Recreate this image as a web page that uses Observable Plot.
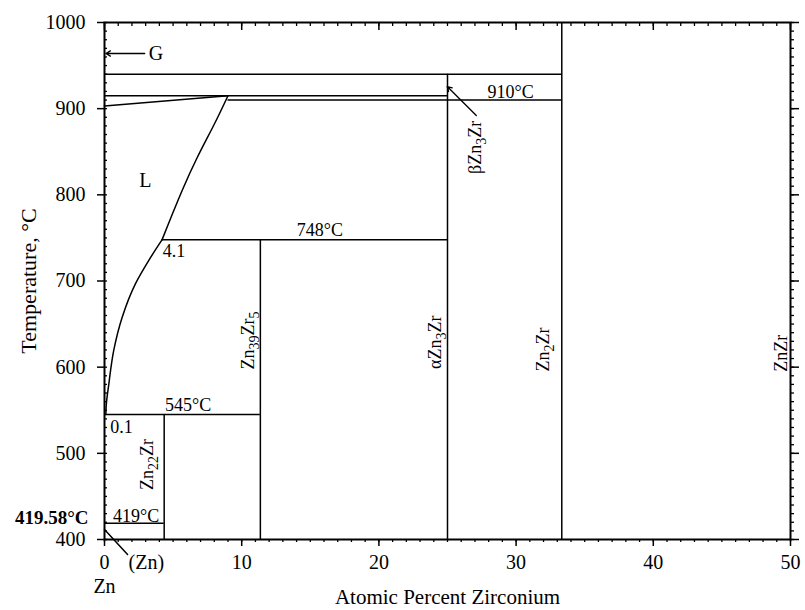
<!DOCTYPE html>
<html><head><meta charset="utf-8">
<script src="https://cdn.jsdelivr.net/npm/d3@7"></script>
<script src="https://cdn.jsdelivr.net/npm/@observablehq/plot@0.6"></script>
<style>
body{margin:0;background:#fff}
svg text, svg tspan{font-family:"Liberation Serif","Times New Roman",serif !important}
</style>
</head><body><div id="chart"></div>
<script>
// Isotherms (horizontal lines): temperature, from x, to x (at.% Zr)
const isoT  = [940, 915, 910, 748, 545, 419];
const isoX1 = [0, 0, 9.0, 4.2, 0, 0];
const isoX2 = [33.33, 25, 33.33, 25, 11.36, 4.35];
// Compound lines (vertical): composition, from T, to T
const compX  = [4.35, 11.36, 25, 33.33];
const compT1 = [400, 400, 400, 400];
const compT2 = [545, 748, 940, 1000];
// Liquidus
const liqSegX = [0, 9.0];
const liqSegT = [903, 915];
const liqUpX = [9.0, 7.99, 6.76, 5.66, 4.64, 4.2];
const liqUpT = [915, 881.6, 843.3, 805, 765.6, 748];
const liqLoX = [4.2, 3.23, 2.26, 1.29, 0.68, 0.32, 0.12, 0.1];
const liqLoT = [748, 724, 697, 658, 620, 581, 554, 545];
// Annotations
const labelText = ["G", "L", "910°C", "748°C", "4.1", "545°C", "0.1", "419°C"];
const labelSize = [20, 20, 18, 18, 18, 18, 18, 18];
const labelX    = [3.75, 2.98, 29.6, 15.7, 5.07, 6.09, 1.24, 2.3];
const labelT    = [964, 816, 919, 758.6, 734, 556, 530.3, 427.5];
const phaseText = ["Zn_22Zr", "Zn_39Zr_5", "αZn_3Zr", "βZn_3Zr", "Zn_2Zr", "ZnZr"];
const phaseX    = [3.1, 10.5, 24.09, 27.01, 31.99, 49.31];
const phaseT    = [487, 631, 629, 855, 620.5, 616];
const arrowX1 = [2.93, 27.1];
const arrowT1 = [964, 892];
const arrowX2 = [0.1, 24.98];
const arrowT2 = [964, 925.7];
const leaderX = [0, 1.68];
const leaderT = [411.6, 382.6];
const xMajor = [0, 10, 20, 30, 40, 50];
const xMinor = d3.range(0, 51, 1);
const yMajor = [400, 500, 600, 700, 800, 900, 1000];
const yMinor = d3.range(400, 1001, 10);

const iso = isoT.map((t, i) => ({t, x1: isoX1[i], x2: isoX2[i]}));
const comp = compX.map((x, i) => ({x, t1: compT1[i], t2: compT2[i]}));
const pts = (X, T) => X.map((x, i) => ({x, t: T[i]}));
const labels = labelText.map((s, i) => ({s, x: labelX[i], t: labelT[i], size: labelSize[i]}));
const phases = phaseText.map((s, i) => ({s, x: phaseX[i], t: phaseT[i]}));
const arrows = arrowX1.map((x, i) => ({x1: x, t1: arrowT1[i], x2: arrowX2[i], t2: arrowT2[i]}));

const chart = Plot.plot({
  width: 805, height: 610,
  marginLeft: 104, marginRight: 15, marginTop: 22, marginBottom: 71,
  style: {fontFamily: "Liberation Serif, serif", fontSize: "20px", color: "black", background: "white"},
  x: {domain: [0, 50]},
  y: {domain: [400, 1000]},
  marks: [
    Plot.ruleY(iso, {y: "t", x1: "x1", x2: "x2", strokeWidth: 1.5}),
    Plot.ruleX(comp, {x: "x", y1: "t1", y2: "t2", strokeWidth: 1.5}),
    Plot.line(pts(liqSegX, liqSegT), {x: "x", y: "t", strokeWidth: 1.5}),
    Plot.line(pts(liqUpX, liqUpT), {x: "x", y: "t", strokeWidth: 1.5, curve: "natural"}),
    Plot.line(pts(liqLoX, liqLoT), {x: "x", y: "t", strokeWidth: 1.5, curve: "monotone-y"}),
    Plot.arrow(arrows, {x1: "x1", y1: "t1", x2: "x2", y2: "t2", strokeWidth: 1.3, headLength: 6}),
    Plot.line(pts(leaderX, leaderT), {x: "x", y: "t", strokeWidth: 1.5}),
    Plot.text(labels, {x: "x", y: "t", text: "s", fontSize: "size"}),
    Plot.text(phases, {x: "x", y: "t", text: "s", fontSize: 18, rotate: -90}),
    Plot.text(["419.58°C"], {x: () => 0, y: () => 425.5, textAnchor: "end", dx: -16, fontSize: 19, fontWeight: "bold"}),
    Plot.text(["(Zn)"], {x: () => 3.05, y: () => 373, fontSize: 20}),
    Plot.text(["Zn"], {x: () => 0, y: () => 345.5, fontSize: 20}),
    Plot.frame({strokeWidth: 2}),
    Plot.axisX({ticks: xMajor, tickSize: 7, tickPadding: 8, tickFormat: d => String(d), label: null, strokeWidth: 1.5, fontSize: 20}),
    Plot.axisX({ticks: xMinor, tickSize: 3, fill: "none", label: null, strokeWidth: 1.3}),
    Plot.axisX({anchor: "top", ticks: xMajor, tickSize: -7, fill: "none", label: null, strokeWidth: 1.5}),
    Plot.axisX({anchor: "top", ticks: xMinor, tickSize: -3, fill: "none", label: null, strokeWidth: 1.3}),
    Plot.axisY({ticks: yMajor, tickSize: 7, tickPadding: 12, tickFormat: d => String(d), label: null, strokeWidth: 1.5, fontSize: 20}),
    Plot.axisY({ticks: yMinor, tickSize: -3, fill: "none", label: null, strokeWidth: 1.3}),
    Plot.axisY({anchor: "right", ticks: yMajor, tickSize: 8, fill: "none", label: null, strokeWidth: 1.5}),
    Plot.axisY({anchor: "right", ticks: yMinor, tickSize: 3, fill: "none", label: null, strokeWidth: 1.3}),
    Plot.text(["Atomic Percent Zirconium"], {frameAnchor: "bottom", lineAnchor: "middle", dy: 58, fontSize: 21}),
    Plot.text(["Temperature, °C"], {frameAnchor: "left", textAnchor: "middle", lineAnchor: "middle", dx: -76, rotate: -90, fontSize: 22})
  ]
});

// subscripts: "_NN" -> lowered, smaller digits
chart.querySelectorAll("text").forEach(el => {
  const s = el.textContent;
  if (!s.includes("_")) return;
  el.textContent = "";
  const parts = s.split(/_(\d+)/);
  let shifted = false;
  parts.forEach((p, i) => {
    if (!p) return;
    const ts = document.createElementNS("http://www.w3.org/2000/svg", "tspan");
    ts.textContent = p;
    if (i % 2 === 1) {
      ts.setAttribute("font-size", "14");
      ts.setAttribute("dy", "5");
      shifted = true;
    } else if (shifted) {
      ts.setAttribute("dy", "-5");
      shifted = false;
    }
    el.appendChild(ts);
  });
});

document.getElementById("chart").appendChild(chart);
</script>
</body></html>
